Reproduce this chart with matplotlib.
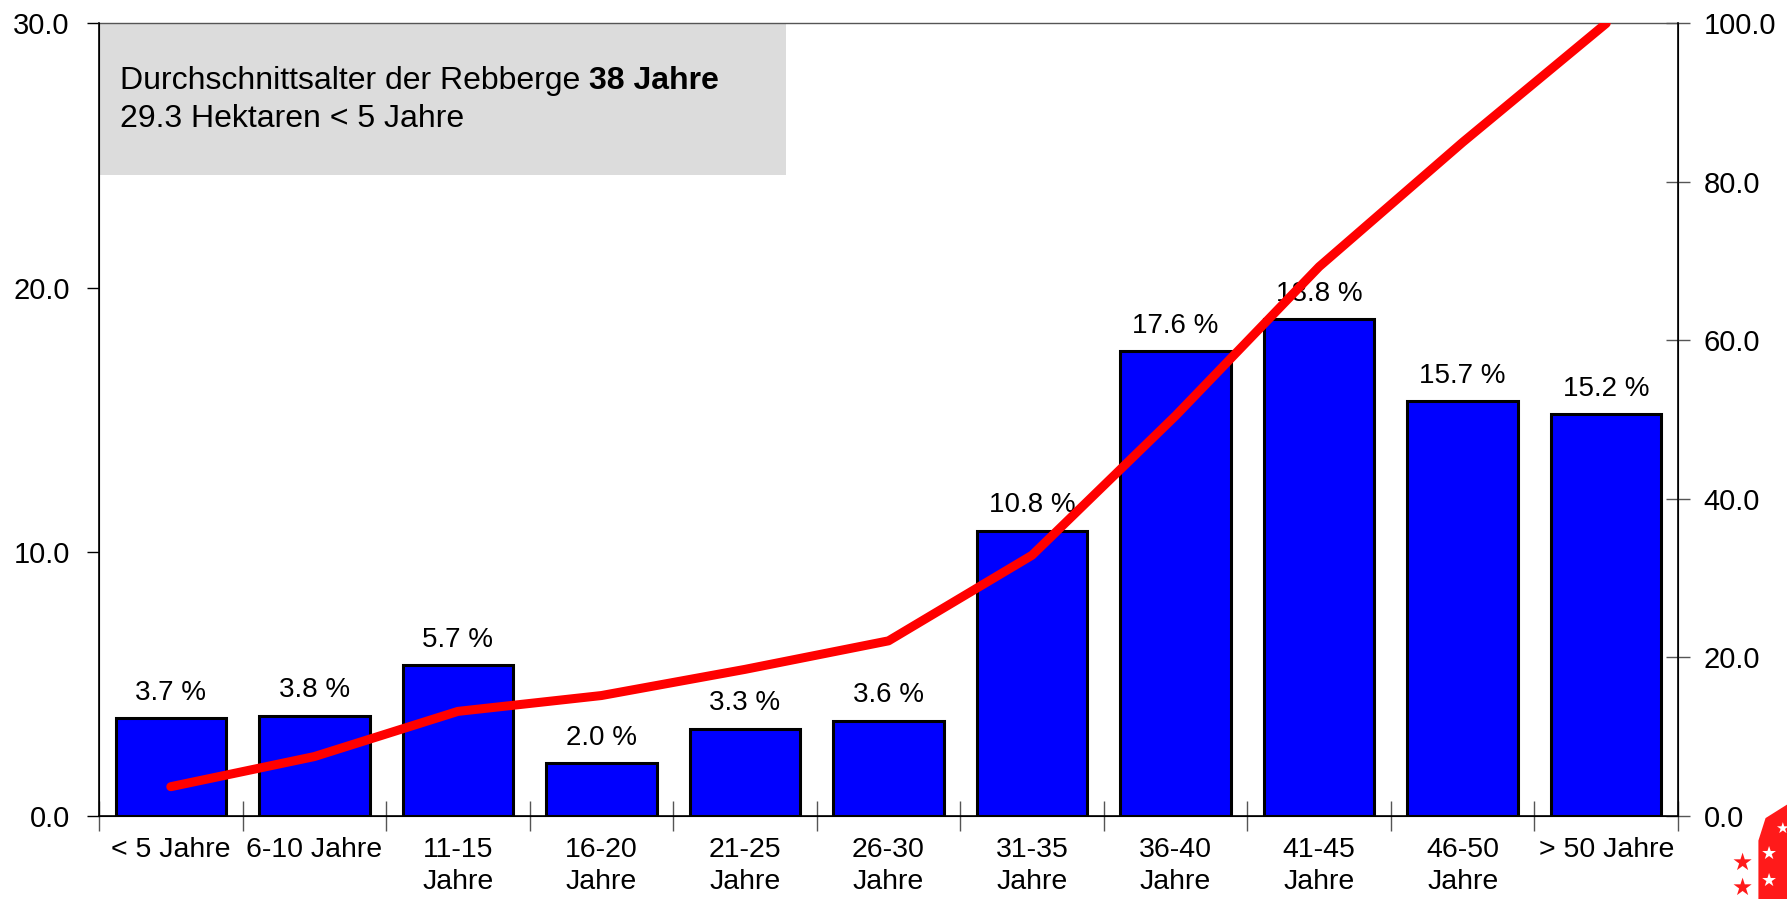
import matplotlib.pyplot as plt
import matplotlib.patches as patches
import numpy as np

plt.rcParams['font.family'] = ['Liberation Sans', 'DejaVu Sans']

# Data
categories = ['< 5 Jahre', '6-10 Jahre', '11-15\nJahre', '16-20\nJahre', '21-25\nJahre',
              '26-30\nJahre', '31-35\nJahre', '36-40\nJahre', '41-45\nJahre',
              '46-50\nJahre', '> 50 Jahre']
shares = [3.7, 3.8, 5.7, 2.0, 3.3, 3.6, 10.8, 17.6, 18.8, 15.7, 15.2]
cumulative = [3.7, 7.5, 13.2, 15.2, 18.5, 22.1, 32.9, 50.5, 69.3, 85.0, 100.0]
left_ticks = [0, 10, 20, 30]
right_ticks = [0, 20, 40, 60, 80, 100]

fig = plt.figure(figsize=(17.87, 8.99), dpi=100)
fig.patch.set_facecolor('white')
ax = fig.add_axes([0.0554, 0.0923, 0.8836, 0.8817])
x = np.arange(len(categories))

# Bars
ax.bar(x, shares, width=0.77, color='#0000FF', edgecolor='black', linewidth=2.2, zorder=2)
for xi, v in zip(x, shares):
    ax.annotate(f'{v:.1f} %', (xi, v), xytext=(0, 9), textcoords='offset points',
                ha='center', va='bottom', fontsize=20, zorder=3)

ax.set_xlim(-0.5, len(categories) - 0.5)
ax.set_ylim(0, 30)
ax.set_yticks(left_ticks)
ax.set_yticklabels([f'{t:.1f}' for t in left_ticks], fontsize=21)
ax.set_xticks(x)
ax.set_xticklabels(categories, fontsize=20.5, linespacing=1.3)
ax.set_xticks(np.arange(-0.5, len(categories)), minor=True)
ax.tick_params(axis='x', which='major', length=0, pad=15)
ax.tick_params(axis='x', which='minor', length=22, direction='inout', width=1, color='#555555')
ax.tick_params(axis='y', length=9, direction='out', width=1, pad=12)
ax.spines['top'].set_color('#555555')
ax.spines['top'].set_linewidth(1)
ax.spines['bottom'].set_linewidth(1.2)
ax.spines['left'].set_linewidth(1.2)

# Grey info box
box = patches.Rectangle((0, 0.809), 0.435, 0.191, transform=ax.transAxes,
                        facecolor='#DCDCDC', edgecolor='none', zorder=1)
ax.add_patch(box)
t1 = ax.text(0.013, 0.927, 'Durchschnittsalter der Rebberge ', transform=ax.transAxes,
             fontsize=23, va='center', ha='left', zorder=4)
fig.canvas.draw()
bb = t1.get_window_extent().transformed(ax.transAxes.inverted())
ax.text(bb.x1, 0.927, '38 Jahre', transform=ax.transAxes, fontsize=23,
        fontweight='bold', va='center', ha='left', zorder=4)
ax.text(0.013, 0.879, '29.3 Hektaren < 5 Jahre', transform=ax.transAxes,
        fontsize=23, va='center', ha='left', zorder=4)

# Cumulative line on right axis
ax2 = ax.twinx()
ax2.plot(x, cumulative, color='#FF0000', linewidth=6.5, solid_capstyle='round', zorder=5)
ax2.set_ylim(0, 100)
ax2.set_yticks(right_ticks)
ax2.set_yticklabels([f'{t:.1f}' for t in right_ticks], fontsize=21)
ax2.tick_params(axis='y', length=17, direction='inout', width=1, pad=10, color='#555555')
ax2.spines['right'].set_linewidth(1.2)
ax2.spines['top'].set_visible(False)

# Partial logo at bottom right corner
flag = patches.Polygon([(0.988, 0.09), (1.0, 0.105), (1.0, 0.0), (0.984, 0.0), (0.984, 0.065)],
                       closed=True, transform=fig.transFigure, facecolor='#FF1A1A',
                       edgecolor='none')
fig.patches.append(flag)
for sx, sy, col, fs in [(0.975, 0.04, '#FF1A1A', 17), (0.975, 0.012, '#FF1A1A', 17),
                        (0.99, 0.05, 'white', 13), (0.99, 0.02, 'white', 13),
                        (0.997, 0.078, 'white', 11)]:
    fig.text(sx, sy, '★', color=col, fontsize=fs, ha='center', va='center',
             family=['DejaVu Sans'])

fig.savefig('out.png', dpi=100, facecolor='white')
